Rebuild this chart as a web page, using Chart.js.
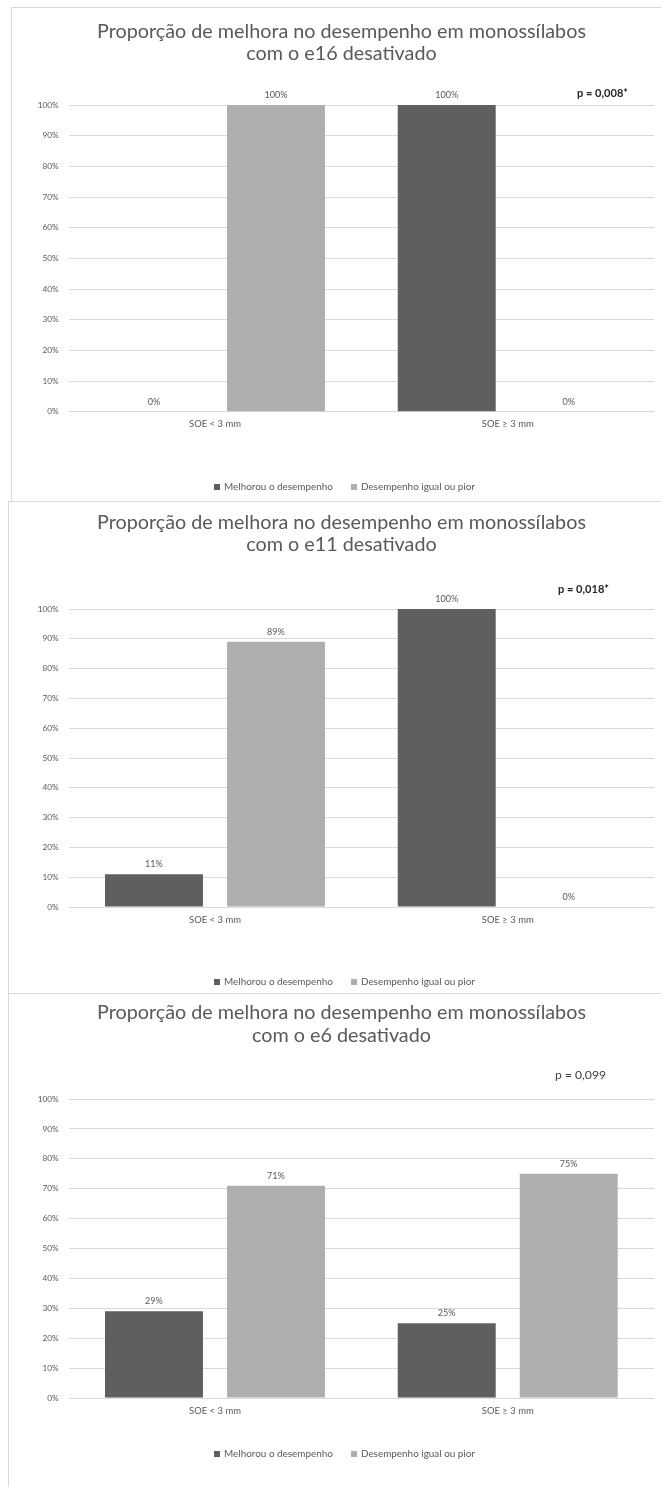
<!DOCTYPE html>
<html>
<head>
<meta charset="utf-8">
<script src="https://cdn.jsdelivr.net/npm/chart.js@4.4.1/dist/chart.umd.min.js"></script>
<style>
  html, body { margin: 0; padding: 0; background: #fff; width: 661px; height: 1487px; overflow: hidden; }
  .panel { position: absolute; box-sizing: border-box; border: 1px solid #d9d9d9; width: 720px; background: #fff; }
  canvas { position: absolute; left: 0; }
</style>
</head>
<body>
<div class="panel" style="left:11px; top:7px; height:495px;"></div>
<div class="panel" style="left:8px; top:501px; height:493px;"></div>
<div class="panel" style="left:8px; top:993px; height:520px;"></div>
<canvas id="chartE16" width="661" height="494" style="top:7px"></canvas>
<canvas id="chartE11" width="661" height="491" style="top:502px"></canvas>
<canvas id="chartE6" width="661" height="494" style="top:993px"></canvas>
<script>
// ---- data ----
const categories = ['SOE < 3 mm', 'SOE ≥ 3 mm'];
const seriesNames = ['Melhorou o desempenho', 'Desempenho igual ou pior'];

const e16Melhorou = [0, 100];
const e16Igual = [100, 0];
const e11Melhorou = [11, 100];
const e11Igual = [89, 0];
const e6Melhorou = [29, 25];
const e6Igual = [71, 75];

const titleE16 = ['Proporção de melhora no desempenho em monossílabos', 'com o e16 desativado'];
const titleE11 = ['Proporção de melhora no desempenho em monossílabos', 'com o e11 desativado'];
const titleE6 = ['Proporção de melhora no desempenho em monossílabos', 'com o e6 desativado'];

const pE16 = 'p = 0,008*';
const pE11 = 'p = 0,018*';
const pE6 = 'p = 0,099';

const yTicks = [0, 10, 20, 30, 40, 50, 60, 70, 80, 90, 100];

// ---- styling ----
const FAMILY = 'Lato, "Open Sans", "DejaVu Sans", sans-serif';
const TEXT = '#595959';
const DARK = '#5f5f5f';
const LIGHT = '#afafaf';
const GRID = '#d9d9d9';

const measureCtx = document.createElement('canvas').getContext('2d');
function fitSize(text, weight, width) {
  measureCtx.font = weight + ' 100px ' + FAMILY;
  return 100 * width / measureCtx.measureText(text).width;
}
const titleSize = fitSize(titleE16[0], 'normal', 489);
const tickSize = fitSize('100%', 'normal', 21);
const barLabelSize = fitSize('100%', 'normal', 23);
const catSize = fitSize(categories[0], 'normal', 52);
const legendSize = fitSize(seriesNames[0], 'normal', 109);
const pSizeBold = fitSize(pE16, 'bold', 51);
const pSize = fitSize(pE6, 'normal', 51);

// Titles, p-values, legend and value labels drawn onto each chart
const decorPlugin = {
  id: 'decor',
  afterDatasetsDraw(chart, args, opts) {
    const ctx = chart.ctx;
    ctx.save();
    ctx.fillStyle = TEXT;
    ctx.font = 'normal ' + barLabelSize + 'px ' + FAMILY;
    ctx.textAlign = 'center';
    ctx.textBaseline = 'middle';
    chart.data.datasets.forEach((ds, di) => {
      const meta = chart.getDatasetMeta(di);
      meta.data.forEach((bar, i) => {
        ctx.fillText(ds.data[i] + '%', bar.x, bar.y - 10);
      });
    });
    ctx.restore();
  },
  afterDraw(chart, args, opts) {
    const ctx = chart.ctx;
    ctx.save();
    // title
    ctx.fillStyle = TEXT;
    ctx.textAlign = 'center';
    ctx.textBaseline = 'middle';
    ctx.font = 'normal ' + titleSize + 'px ' + FAMILY;
    opts.title.forEach((line, i) => ctx.fillText(line, opts.titleX, opts.titleY[i]));
    // p-value
    ctx.fillStyle = opts.pBold ? '#262626' : '#404040';
    ctx.font = (opts.pBold ? 'bold ' + pSizeBold : 'normal ' + pSize) + 'px ' + FAMILY;
    ctx.fillText(opts.p, opts.pX, opts.pY);
    // legend
    ctx.font = 'normal ' + legendSize + 'px ' + FAMILY;
    ctx.textAlign = 'left';
    const box = 6, boxGap = 4, itemGap = 18;
    const items = chart.data.datasets.map(ds => ({ label: ds.label, color: ds.backgroundColor, w: ctx.measureText(ds.label).width }));
    const total = items.reduce((s, it) => s + box + boxGap + it.w, 0) + itemGap * (items.length - 1);
    let x = opts.legendX - total / 2;
    items.forEach(it => {
      ctx.fillStyle = it.color;
      ctx.fillRect(Math.round(x), Math.round(opts.legendY - box / 2), box, box);
      x += box + boxGap;
      ctx.fillStyle = TEXT;
      ctx.fillText(it.label, x, opts.legendY);
      x += it.w + itemGap;
    });
    ctx.restore();
  }
};

function makeChart(spec) {
  const xAxisHeight = 30;
  const plotLeft = 68.6;
  return new Chart(document.getElementById(spec.id), {
    type: 'bar',
    data: {
      labels: categories,
      datasets: [
        { label: seriesNames[0], data: spec.melhorou, backgroundColor: DARK },
        { label: seriesNames[1], data: spec.igual, backgroundColor: LIGHT }
      ]
    },
    options: {
      responsive: false,
      animation: false,
      devicePixelRatio: 1,
      categoryPercentage: 0.8335,
      barPercentage: 0.803,
      layout: {
        padding: { left: 0, right: 661 - 654.1, top: spec.yTop, bottom: spec.height - spec.yZero - xAxisHeight }
      },
      plugins: {
        legend: { display: false },
        title: { display: false },
        tooltip: { enabled: false },
        decor: {
          title: spec.title, titleX: 341.5, titleY: spec.titleY,
          p: spec.p, pBold: spec.pBold, pX: spec.pX, pY: spec.pY,
          legendX: 344.5, legendY: spec.legendY
        }
      },
      scales: {
        x: {
          grid: { display: false, drawTicks: false },
          border: { display: false },
          ticks: { color: TEXT, font: { family: FAMILY, size: catSize }, padding: 7 },
          afterFit(scale) { scale.height = xAxisHeight; }
        },
        y: {
          min: 0, max: 100,
          afterBuildTicks(scale) { scale.ticks = yTicks.map(v => ({ value: v })); },
          grid: { color: GRID, lineWidth: 1, drawTicks: false },
          border: { display: false },
          ticks: { color: TEXT, font: { family: FAMILY, size: tickSize }, padding: 10, callback: v => v + '%' },
          afterFit(scale) { scale.width = plotLeft; }
        }
      }
    },
    plugins: [decorPlugin]
  });
}

makeChart({ id: 'chartE16', height: 494, title: titleE16, melhorou: e16Melhorou, igual: e16Igual,
  p: pE16, pBold: true, yTop: 98, yZero: 404.7, titleY: [25, 46.5], pX: 602.5, pY: 86, legendY: 480 });
makeChart({ id: 'chartE11', height: 491, title: titleE11, melhorou: e11Melhorou, igual: e11Igual,
  p: pE11, pBold: true, yTop: 107, yZero: 405, titleY: [21, 43], pX: 583.5, pY: 87, legendY: 480 });
makeChart({ id: 'chartE6', height: 494, title: titleE6, melhorou: e6Melhorou, igual: e6Igual,
  p: pE6, pBold: false, yTop: 106, yZero: 405, titleY: [20, 43], pX: 580.5, pY: 82, legendY: 461 });
</script>
</body>
</html>
